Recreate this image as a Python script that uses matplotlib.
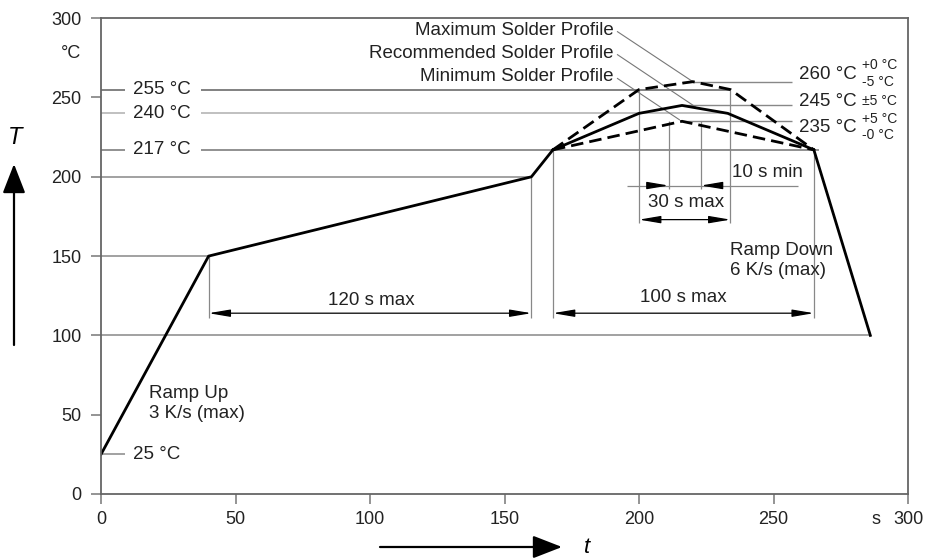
'''reflow solder profile (T over t)'''
import matplotlib
matplotlib.use("Agg")
import matplotlib.pyplot as plt

plt.rcParams['font.family'] = ['Liberation Sans', 'DejaVu Sans']

# profile data (t in s, T in degC)
t_main = [0, 40, 160, 168]
T_main = [25, 150, 200, 217]
t_rec = [168, 200, 216, 233, 265]
T_rec = [217, 240, 245, 240, 217]
t_max = [168, 200, 220, 234, 265]
T_max = [217, 255, 260, 255, 217]
t_min = [168, 216, 265]
T_min = [217, 235, 217]
t_down = [265, 286]
T_down = [217, 100]

x_ticks = [0, 50, 100, 150, 200, 250, 288, 300]
x_labels = ['0', '50', '100', '150', '200', '250', 's', '300']
y_ticks = [0, 50, 100, 150, 200, 250, 300]

# reference levels on the left side
left_levels = [255, 240, 217]
left_texts = ['255 °C', '240 °C', '217 °C']
left_ends = [234, 233, 267]
left_colors = ['#777777', '#bbbbbb', '#888888']

# peak levels on the right side
peak_levels = [260, 245, 235]
peak_texts = ['260 °C', '245 °C', '235 °C']
peak_text_y = [264.5, 247.5, 231]
tol_texts = ['+0 °C', '-5 °C', '±5 °C', '+5 °C', '-0 °C']
tol_y = [270.5, 260, 247.5, 236.5, 226.5]

profile_names = ['Maximum Solder Profile', 'Recommended Solder Profile', 'Minimum Solder Profile']
profile_text_y = [292.5, 278, 263]
leader_end_t = [220, 221.5, 215]
leader_end_T = [260, 243.5, 236]

GRID = '#888888'
TXT = '#222222'
FS = 13.5

fig = plt.figure(figsize=(9.28, 5.6), dpi=100)
ax = fig.add_axes([101/928, 66/560, 807/928, 475.8/560])
ax.set_xlim(0, 300)
ax.set_ylim(0, 300)
for s in ax.spines.values():
    s.set_color('#666666')
    s.set_linewidth(1.3)

ax.set_xticks(x_ticks)
ax.set_xticklabels(x_labels)
ax.set_yticks(y_ticks)
ax.tick_params(direction='out', length=7, width=1.1, color='#777777',
               labelsize=13, labelcolor=TXT)
ax.tick_params(axis='y', pad=7)
ax.tick_params(axis='x', pad=5)
ax.xaxis.get_major_ticks()[x_labels.index('s')].tick1line.set_visible(False)
ax.text(-7.5, 278, '°C', ha='right', va='center', fontsize=13, color=TXT, clip_on=False)

# grid-like lines ending at the profile corners
ax.hlines(100, 0, t_down[-1], color=GRID, lw=1.1)
ax.hlines(150, 0, t_main[1], color=GRID, lw=1.1)
ax.hlines(200, 0, t_main[2], color=GRID, lw=1.1)

# left labelled levels (line broken for the text)
for lev, txt, end, c in zip(left_levels, left_texts, left_ends, left_colors):
    ax.hlines(lev, 0, 9, color=c, lw=1.3)
    ax.hlines(lev, 37, end, color=c, lw=1.3)
    ax.text(12, lev, txt, ha='left', va='center', fontsize=FS, color=TXT)
ax.hlines(T_main[0], 0, 9, color=GRID, lw=1.1)
ax.text(12, T_main[0], '25 °C', ha='left', va='center', fontsize=FS, color=TXT)

# right peak levels with tolerances
for lev, txt, ty in zip(peak_levels, peak_texts, peak_text_y):
    ax.hlines(lev, 216, 257, color=GRID, lw=1.0)
    ax.text(259.5, ty, txt, ha='left', va='center', fontsize=FS, color=TXT)
for txt, ty in zip(tol_texts, tol_y):
    ax.text(283, ty, txt, ha='left', va='center', fontsize=10, color=TXT)

# profile labels with leader lines
for name, ty, et, eT in zip(profile_names, profile_text_y, leader_end_t, leader_end_T):
    ax.text(190.5, ty, name, ha='right', va='center', fontsize=FS, color=TXT)
    ax.plot([192, et], [ty - 1, eT], color='#777777', lw=0.8)

# vertical dimension guides
ax.vlines([t_main[1]], 111, T_main[1], color=GRID, lw=0.9)
ax.vlines([t_main[2]], 111, T_main[2], color=GRID, lw=0.9)
ax.vlines([t_main[3]], 111, T_main[3], color=GRID, lw=0.9)
ax.vlines([t_rec[-1]], 111, T_rec[-1], color=GRID, lw=0.9)
ax.vlines([t_max[1], t_max[3]], 171, 255, color=GRID, lw=0.9)
ax.vlines([211, 223], 192, 235, color=GRID, lw=0.9)
ax.hlines(194.5, 195.5, 259, color=GRID, lw=0.9)


def dim(x0, x1, y, style='<|-|>'):
    ax.annotate('', xy=(x1, y), xytext=(x0, y),
                arrowprops=dict(arrowstyle=style + ',head_length=1.3,head_width=0.22',
                                color='black', lw=0.9, shrinkA=0, shrinkB=0,
                                mutation_scale=10))


dim(t_main[1], t_main[2], 114)
dim(t_main[3], t_rec[-1], 114)
dim(t_max[1], t_max[3], 173)
dim(204, 211, 194.5, '-|>')
dim(230, 223, 194.5, '-|>')

ax.text(100.5, 122, '120 s max', ha='center', va='center', fontsize=FS, color=TXT)
ax.text(216.5, 124, '100 s max', ha='center', va='center', fontsize=FS, color=TXT)
ax.text(217.5, 183.5, '30 s max', ha='center', va='center', fontsize=FS, color=TXT)
ax.text(234.5, 203, '10 s min', ha='left', va='center', fontsize=FS, color=TXT)
ax.text(18, 57, 'Ramp Up\n3 K/s (max)', ha='left', va='center', fontsize=FS,
        color=TXT, linespacing=1.25)
ax.text(234, 147, 'Ramp Down\n6 K/s (max)', ha='left', va='center', fontsize=FS,
        color=TXT, linespacing=1.25)

# profiles
ax.plot(t_main, T_main, color='black', lw=2.0)
ax.plot(t_rec, T_rec, color='black', lw=2.0)
ax.plot(t_down, T_down, color='black', lw=2.0)
ax.plot(t_max, T_max, color='black', lw=2.0, dashes=(4.5, 2.2))
ax.plot(t_min, T_min, color='black', lw=2.0, dashes=(4.5, 2.2))

# axis symbols T and t with arrows
fig.text(15/928, 1 - 138/560, 'T', fontsize=17, style='italic', ha='center', va='center')
fig.patches.append(matplotlib.patches.FancyArrowPatch(
    (14/928, 1 - 345/560), (14/928, 1 - 164/560), transform=fig.transFigure,
    arrowstyle='-|>,head_length=1.8,head_width=0.7', mutation_scale=10,
    color='black', lw=1.6, shrinkA=0, shrinkB=0))
fig.patches.append(matplotlib.patches.FancyArrowPatch(
    (380/928, 1 - 547/560), (562/928, 1 - 547/560), transform=fig.transFigure,
    arrowstyle='-|>,head_length=1.8,head_width=0.7', mutation_scale=10,
    color='black', lw=1.6, shrinkA=0, shrinkB=0))
fig.text(587/928, 1 - 558/560, 't', fontsize=16, style='italic', ha='center', va='bottom')

fig.savefig('out.png', dpi=100)
